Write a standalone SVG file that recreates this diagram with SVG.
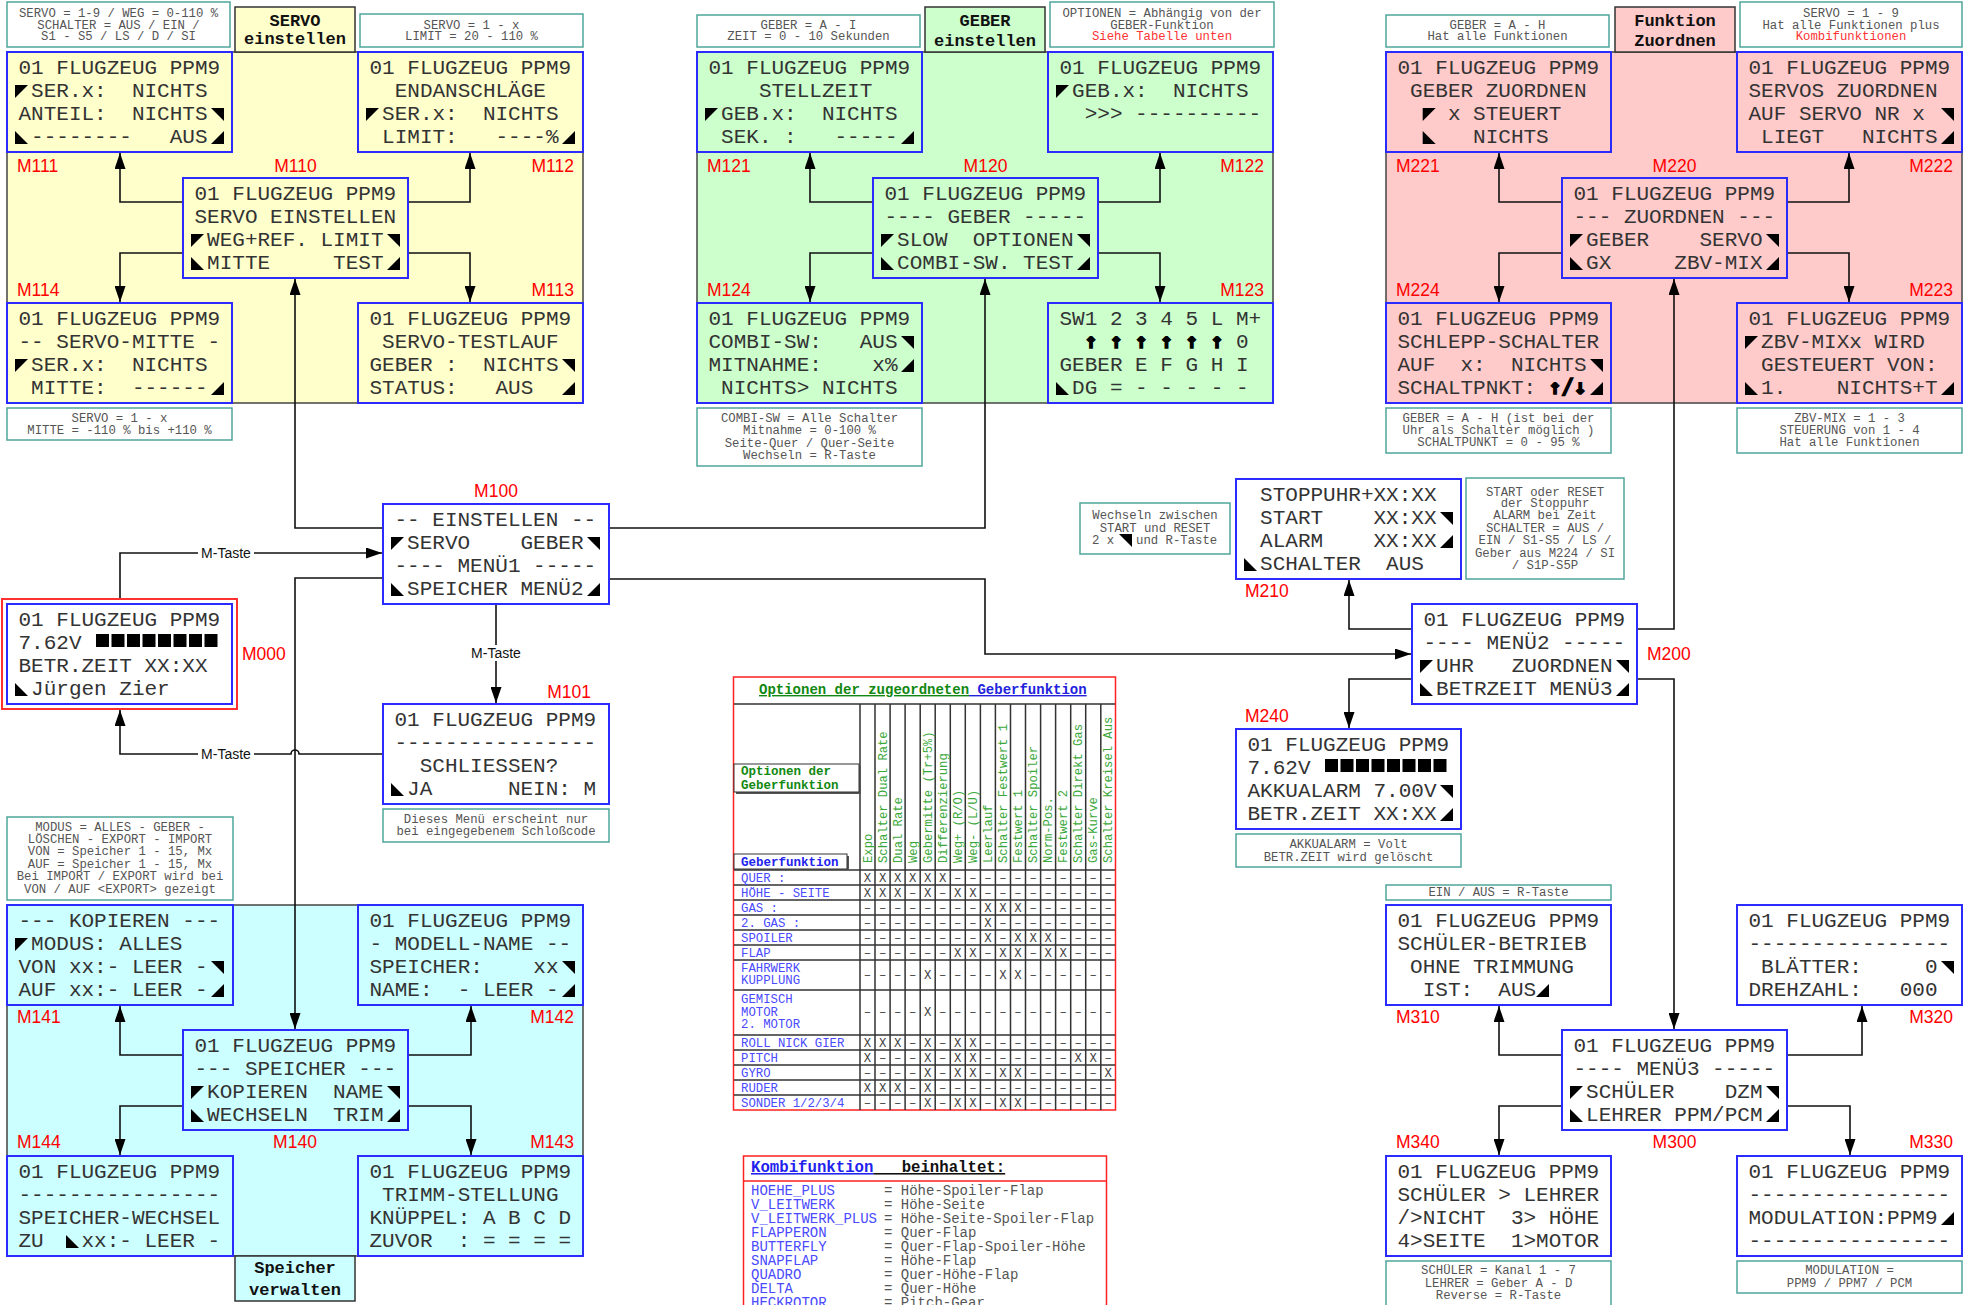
<svg xmlns="http://www.w3.org/2000/svg" width="1973" height="1305" viewBox="0 0 1973 1305" xml:space="preserve">
<style>
text{white-space:pre}
.bg{stroke:#444;stroke-width:1.5}
.yl{fill:#ffffcc}.gr{fill:#ccffcc}.rd{fill:#ffcaca}.cy{fill:#ccffff}.wh{fill:#ffffff}
.box{stroke:#2b2bff;stroke-width:2}
.lcd{font-family:"Liberation Mono",monospace;font-size:21px;fill:#333;white-space:pre}
.arw{font-family:"DejaVu Sans Mono",monospace;font-size:21px;font-weight:bold;fill:#000;stroke:#000;stroke-width:1.6;white-space:pre}
.ml{font-family:"Liberation Sans",Arial,sans-serif;font-size:17.5px;fill:#ff0000}
.note{fill:#ffffff;stroke:#4fa59c;stroke-width:1.5}
.nt{font-family:"Liberation Mono",monospace;font-size:12.3px;fill:#555;text-anchor:middle;white-space:pre}
.ntl{font-family:"Liberation Mono",monospace;font-size:12.3px;fill:#555;white-space:pre}
.red{fill:#ff3333}
.lab{stroke:#333;stroke-width:1.5}
.labt{font-family:"Liberation Mono",monospace;font-size:17px;font-weight:bold;fill:#111;text-anchor:middle}
.con{fill:none;stroke:#111;stroke-width:1.6}
.mt{font-family:"Liberation Sans",Arial,sans-serif;font-size:14px;fill:#111;text-anchor:middle}
.tri{fill:#000}
.tch{font-family:"Liberation Mono",monospace;font-size:12.2px;fill:#3aa83a;white-space:pre}
.trl{font-family:"Liberation Mono",monospace;font-size:12.3px;fill:#4a4aff;white-space:pre}
.tv{font-family:"Liberation Mono",monospace;font-size:12.3px;fill:#444;text-anchor:middle}
.grid{fill:none;stroke:#333;stroke-width:1.5}
.kl{font-family:"Liberation Mono",monospace;font-size:14px;fill:#4a4aff;white-space:pre}
.kr{font-family:"Liberation Mono",monospace;font-size:14px;fill:#555;white-space:pre}
</style>
<defs>
<polygon id="tA" class="tri" points="0,0 13,0 0,13"/>
<polygon id="tB" class="tri" points="0,0 13,0 13,13"/>
<polygon id="tC" class="tri" points="0,0 0,13 13,13"/>
<polygon id="tD" class="tri" points="13,0 13,13 0,13"/>
<marker id="ah" markerWidth="16" markerHeight="11" refX="16" refY="5.5" orient="auto" markerUnits="userSpaceOnUse"><path d="M0,0 L16,5.5 L0,11 z" fill="#000"/></marker>
</defs>
<rect width="1973" height="1305" fill="#ffffff"/>

<g id="sections">
<rect class="bg yl" x="7" y="52" width="576" height="351"/>
<rect class="bg gr" x="697" y="52" width="576" height="351"/>
<rect class="bg rd" x="1386" y="52" width="576" height="351"/>
<rect class="bg cy" x="7" y="905" width="576" height="351"/>
</g>

<g id="section-labels">
<g id="lab-servo"><rect class="lab yl" x="235" y="7" width="120" height="45"/><text class="labt" x="295" y="26">SERVO</text><text class="labt" x="295" y="44">einstellen</text></g>
<g id="lab-geber"><rect class="lab gr" x="925" y="7" width="120" height="45"/><text class="labt" x="985" y="26">GEBER</text><text class="labt" x="985" y="46">einstellen</text></g>
<g id="lab-funktion"><rect class="lab rd" x="1615" y="7" width="120" height="45"/><text class="labt" x="1675" y="26">Funktion</text><text class="labt" x="1675" y="46">Zuordnen</text></g>
<g id="lab-speicher"><rect class="lab cy" x="235" y="1256" width="120" height="45"/><text class="labt" x="295" y="1273">Speicher</text><text class="labt" x="295" y="1295">verwalten</text></g>
</g>

<g id="notes">
<g id="n1"><rect class="note" x="7" y="2" width="223" height="45"/><text class="nt" x="118.5" y="16.5">SERVO = 1-9 / WEG = 0-110 %</text><text class="nt" x="118.5" y="28.5">SCHALTER = AUS / EIN /</text><text class="nt" x="118.5" y="40">S1 - S5 / LS / D / SI</text></g>
<g id="n2"><rect class="note" x="360" y="14" width="223" height="33"/><text class="nt" x="471.5" y="28.5">SERVO = 1 - x</text><text class="nt" x="471.5" y="40">LIMIT = 20 - 110 %</text></g>
<g id="n3"><rect class="note" x="7" y="408" width="225" height="32"/><text class="nt" x="119.5" y="422">SERVO = 1 - x</text><text class="nt" x="119.5" y="434">MITTE = -110 % bis +110 %</text></g>
<g id="n4"><rect class="note" x="697" y="15" width="223" height="32"/><text class="nt" x="808.5" y="28.5">GEBER = A - I</text><text class="nt" x="808.5" y="40">ZEIT = 0 - 10 Sekunden</text></g>
<g id="n5"><rect class="note" x="1050" y="2" width="224" height="45"/><text class="nt" x="1162" y="16.5">OPTIONEN = Abhängig von der</text><text class="nt" x="1162" y="28.5">GEBER-Funktion</text><text class="nt red" x="1162" y="40">Siehe Tabelle unten</text></g>
<g id="n6"><rect class="note" x="697" y="408" width="225" height="58"/><text class="nt" x="809.5" y="422">COMBI-SW = Alle Schalter</text><text class="nt" x="809.5" y="434">Mitnahme = 0-100 %</text><text class="nt" x="809.5" y="447">Seite-Quer / Quer-Seite</text><text class="nt" x="809.5" y="459">Wechseln = R-Taste</text></g>
<g id="n7"><rect class="note" x="1386" y="15" width="223" height="32"/><text class="nt" x="1497.5" y="28.5">GEBER = A - H</text><text class="nt" x="1497.5" y="40">Hat alle Funktionen</text></g>
<g id="n8"><rect class="note" x="1740" y="2" width="222" height="45"/><text class="nt" x="1851" y="16.5">SERVO = 1 - 9</text><text class="nt" x="1851" y="28.5">Hat alle Funktionen plus</text><text class="nt red" x="1851" y="40">Kombifunktionen</text></g>
<g id="n9"><rect class="note" x="1386" y="408" width="225" height="45"/><text class="nt" x="1498.5" y="422">GEBER = A - H (ist bei der</text><text class="nt" x="1498.5" y="434">Uhr als Schalter möglich )</text><text class="nt" x="1498.5" y="446">SCHALTPUNKT = 0 - 95 %</text></g>
<g id="n10"><rect class="note" x="1737" y="408" width="225" height="45"/><text class="nt" x="1849.5" y="422">ZBV-MIX = 1 - 3</text><text class="nt" x="1849.5" y="434">STEUERUNG von 1 - 4</text><text class="nt" x="1849.5" y="446">Hat alle Funktionen</text></g>
<g id="n11"><rect class="note" x="1080" y="503" width="150" height="51"/><text class="nt" x="1155" y="519">Wechseln zwischen</text><text class="nt" x="1155" y="532">START und RESET</text><text class="ntl" x="1092" y="544">2 x</text><use href="#tB" x="1119" y="534"/><text class="ntl" x="1136" y="544">und R-Taste</text></g>
<g id="n12"><rect class="note" x="1466" y="478" width="158" height="101"/><text class="nt" x="1545" y="496">START oder RESET</text><text class="nt" x="1545" y="507">der Stoppuhr</text><text class="nt" x="1545" y="519">ALARM bei Zeit</text><text class="nt" x="1545" y="532">SCHALTER = AUS /</text><text class="nt" x="1545" y="544">EIN / S1-S5 / LS /</text><text class="nt" x="1545" y="557">Geber aus M224 / SI</text><text class="nt" x="1545" y="569">/ S1P-S5P</text></g>
<g id="n13"><rect class="note" x="383" y="809" width="226" height="33"/><text class="nt" x="496" y="823">Dieses Menü erscheint nur</text><text class="nt" x="496" y="835">bei eingegebenem Schloßcode</text></g>
<g id="n14"><rect class="note" x="7" y="817" width="226" height="83"/><text class="nt" x="120" y="831">MODUS = ALLES - GEBER -</text><text class="nt" x="120" y="843">LÖSCHEN - EXPORT - IMPORT</text><text class="nt" x="120" y="855">VON = Speicher 1 - 15, Mx</text><text class="nt" x="120" y="868">AUF = Speicher 1 - 15, Mx</text><text class="nt" x="120" y="880">Bei IMPORT / EXPORT wird bei</text><text class="nt" x="120" y="893">VON / AUF &lt;EXPORT&gt; gezeigt</text></g>
<g id="n15"><rect class="note" x="1236" y="834" width="225" height="33"/><text class="nt" x="1348.5" y="848">AKKUALARM = Volt</text><text class="nt" x="1348.5" y="861">BETR.ZEIT wird gelöscht</text></g>
<g id="n16"><rect class="note" x="1386" y="885" width="225" height="15"/><text class="nt" x="1498.5" y="896">EIN / AUS = R-Taste</text></g>
<g id="n17"><rect class="note" x="1386" y="1261" width="225" height="52"/><text class="nt" x="1498.5" y="1274">SCHÜLER = Kanal 1 - 7</text><text class="nt" x="1498.5" y="1287">LEHRER = Geber A - D</text><text class="nt" x="1498.5" y="1299">Reverse = R-Taste</text></g>
<g id="n18"><rect class="note" x="1737" y="1261" width="225" height="32"/><text class="nt" x="1849.5" y="1274">MODULATION =</text><text class="nt" x="1849.5" y="1287">PPM9 / PPM7 / PCM</text></g>
</g>

<g id="connectors">
<path class="con" marker-end="url(#ah)" d="M183,202 H120 V153"/>
<path class="con" marker-end="url(#ah)" d="M408,202 H470 V153"/>
<path class="con" marker-end="url(#ah)" d="M183,253 H120 V302"/>
<path class="con" marker-end="url(#ah)" d="M408,253 H470 V302"/>
<path class="con" marker-end="url(#ah)" d="M873,202 H810 V153"/>
<path class="con" marker-end="url(#ah)" d="M1098,202 H1160 V153"/>
<path class="con" marker-end="url(#ah)" d="M873,253 H810 V302"/>
<path class="con" marker-end="url(#ah)" d="M1098,253 H1160 V302"/>
<path class="con" marker-end="url(#ah)" d="M1562,202 H1499 V153"/>
<path class="con" marker-end="url(#ah)" d="M1787,202 H1849 V153"/>
<path class="con" marker-end="url(#ah)" d="M1562,253 H1499 V302"/>
<path class="con" marker-end="url(#ah)" d="M1787,253 H1849 V302"/>
<path class="con" marker-end="url(#ah)" d="M183,1055 H120 V1006"/>
<path class="con" marker-end="url(#ah)" d="M408,1055 H471 V1006"/>
<path class="con" marker-end="url(#ah)" d="M183,1106 H120 V1155"/>
<path class="con" marker-end="url(#ah)" d="M408,1106 H471 V1155"/>
<path class="con" marker-end="url(#ah)" d="M1562,1055 H1499 V1006"/>
<path class="con" marker-end="url(#ah)" d="M1787,1055 H1862 V1006"/>
<path class="con" marker-end="url(#ah)" d="M1562,1106 H1499 V1155"/>
<path class="con" marker-end="url(#ah)" d="M1787,1106 H1850 V1155"/>
<path class="con" marker-end="url(#ah)" d="M383,528 H295 V279"/>
<path class="con" marker-end="url(#ah)" d="M609,528 H985 V279"/>
<path class="con" marker-end="url(#ah)" d="M383,578 H295 V1029"/>
<path class="con" marker-end="url(#ah)" d="M609,579 H985 V654 H1411"/>
<path class="con" marker-end="url(#ah)" d="M120,599 V553 H382"/>
<path class="con" marker-end="url(#ah)" d="M496,605 V703"/>
<path class="con" marker-end="url(#ah)" d="M383,754 H299 A4,4 0 0 0 291,754 H120 V710"/>
<path class="con" marker-end="url(#ah)" d="M1412,629 H1349 V580"/>
<path class="con" marker-end="url(#ah)" d="M1412,679 H1349 V728"/>
<path class="con" marker-end="url(#ah)" d="M1637,629 H1674 V279"/>
<path class="con" marker-end="url(#ah)" d="M1637,679 H1674 V1029"/>
<rect x="198" y="545" width="56" height="16" fill="#fff"/><text class="mt" x="226" y="558">M-Taste</text>
<rect x="468" y="645" width="56" height="16" fill="#fff"/><text class="mt" x="496" y="658">M-Taste</text>
<rect x="198" y="746" width="56" height="16" fill="#fff"/><text class="mt" x="226" y="759">M-Taste</text>
</g>

<g id="M111"><rect class="box yl" x="7" y="52" width="225" height="100"/>
<text class="lcd" x="18.5" y="74">01 FLUGZEUG PPM9</text><text class="lcd" x="18.5" y="97"> SER.x:  NICHTS</text><text class="lcd" x="18.5" y="120">ANTEIL:  NICHTS</text><text class="lcd" x="18.5" y="143"> --------   AUS</text>
<use href="#tA" x="15" y="85"/><use href="#tB" x="211" y="108"/><use href="#tC" x="15" y="131"/><use href="#tD" x="211" y="131"/>
<text class="ml" x="17" y="172">M111</text></g>
<g id="M112"><rect class="box yl" x="358" y="52" width="225" height="100"/>
<text class="lcd" x="369.5" y="74">01 FLUGZEUG PPM9</text><text class="lcd" x="369.5" y="97">  ENDANSCHLÄGE</text><text class="lcd" x="369.5" y="120"> SER.x:  NICHTS</text><text class="lcd" x="369.5" y="143"> LIMIT:   ----%</text>
<use href="#tA" x="366" y="108"/><use href="#tD" x="562" y="131"/>
<text class="ml" x="574" y="172" text-anchor="end">M112</text></g>
<g id="M110"><rect class="box yl" x="183" y="178" width="225" height="100"/>
<text class="lcd" x="194.5" y="200">01 FLUGZEUG PPM9</text><text class="lcd" x="194.5" y="223">SERVO EINSTELLEN</text><text class="lcd" x="194.5" y="246"> WEG+REF. LIMIT</text><text class="lcd" x="194.5" y="269"> MITTE     TEST</text>
<use href="#tA" x="191" y="234"/><use href="#tB" x="387" y="234"/><use href="#tC" x="191" y="257"/><use href="#tD" x="387" y="257"/>
<text class="ml" x="295.5" y="172" text-anchor="middle">M110</text></g>
<g id="M114"><rect class="box yl" x="7" y="303" width="225" height="100"/>
<text class="lcd" x="18.5" y="325">01 FLUGZEUG PPM9</text><text class="lcd" x="18.5" y="348">-- SERVO-MITTE -</text><text class="lcd" x="18.5" y="371"> SER.x:  NICHTS</text><text class="lcd" x="18.5" y="394"> MITTE:  ------</text>
<use href="#tA" x="15" y="359"/><use href="#tD" x="211" y="382"/>
<text class="ml" x="17" y="296">M114</text></g>
<g id="M113"><rect class="box yl" x="358" y="303" width="225" height="100"/>
<text class="lcd" x="369.5" y="325">01 FLUGZEUG PPM9</text><text class="lcd" x="369.5" y="348"> SERVO-TESTLAUF</text><text class="lcd" x="369.5" y="371">GEBER :  NICHTS</text><text class="lcd" x="369.5" y="394">STATUS:   AUS</text>
<use href="#tB" x="562" y="359"/><use href="#tD" x="562" y="382"/>
<text class="ml" x="574" y="296" text-anchor="end">M113</text></g>

<g id="M121"><rect class="box gr" x="697" y="52" width="225" height="100"/>
<text class="lcd" x="708.5" y="74">01 FLUGZEUG PPM9</text><text class="lcd" x="708.5" y="97">    STELLZEIT</text><text class="lcd" x="708.5" y="120"> GEB.x:  NICHTS</text><text class="lcd" x="708.5" y="143"> SEK. :   -----</text>
<use href="#tA" x="705" y="108"/><use href="#tD" x="901" y="131"/>
<text class="ml" x="707" y="172">M121</text></g>
<g id="M122"><rect class="box gr" x="1048" y="52" width="225" height="100"/>
<text class="lcd" x="1059.5" y="74">01 FLUGZEUG PPM9</text><text class="lcd" x="1059.5" y="97"> GEB.x:  NICHTS</text><text class="lcd" x="1059.5" y="120">  &gt;&gt;&gt; ----------</text>
<use href="#tA" x="1056" y="85"/>
<text class="ml" x="1264" y="172" text-anchor="end">M122</text></g>
<g id="M120"><rect class="box gr" x="873" y="178" width="225" height="100"/>
<text class="lcd" x="884.5" y="200">01 FLUGZEUG PPM9</text><text class="lcd" x="884.5" y="223">---- GEBER -----</text><text class="lcd" x="884.5" y="246"> SLOW  OPTIONEN</text><text class="lcd" x="884.5" y="269"> COMBI-SW. TEST</text>
<use href="#tA" x="881" y="234"/><use href="#tB" x="1077" y="234"/><use href="#tC" x="881" y="257"/><use href="#tD" x="1077" y="257"/>
<text class="ml" x="985.5" y="172" text-anchor="middle">M120</text></g>
<g id="M124"><rect class="box gr" x="697" y="303" width="225" height="100"/>
<text class="lcd" x="708.5" y="325">01 FLUGZEUG PPM9</text><text class="lcd" x="708.5" y="348">COMBI-SW:   AUS</text><text class="lcd" x="708.5" y="371">MITNAHME:    x%</text><text class="lcd" x="708.5" y="394"> NICHTS&gt; NICHTS</text>
<use href="#tB" x="901" y="336"/><use href="#tD" x="901" y="359"/>
<text class="ml" x="707" y="296">M124</text></g>
<g id="M123"><rect class="box gr" x="1048" y="303" width="225" height="100"/>
<text class="lcd" x="1059.5" y="325">SW1 2 3 4 5 L M+</text><text class="lcd" x="1235.9" y="348">0</text><text class="arw" x="1084.7 1109.9 1135.1 1160.3 1185.5 1210.7" y="348">↑↑↑↑↑↑</text><text class="lcd" x="1059.5" y="371">GEBER E F G H I</text><text class="lcd" x="1059.5" y="394"> DG = - - - - -</text>
<use href="#tC" x="1056" y="382"/>
<text class="ml" x="1264" y="296" text-anchor="end">M123</text></g>

<g id="M221"><rect class="box rd" x="1386" y="52" width="225" height="100"/>
<text class="lcd" x="1397.5" y="74">01 FLUGZEUG PPM9</text><text class="lcd" x="1397.5" y="97"> GEBER ZUORDNEN</text><text class="lcd" x="1397.5" y="120">    x STEUERT</text><text class="lcd" x="1397.5" y="143">      NICHTS</text>
<use href="#tA" x="1422.7" y="108"/><use href="#tC" x="1422.7" y="131"/>
<text class="ml" x="1396" y="172">M221</text></g>
<g id="M222"><rect class="box rd" x="1737" y="52" width="225" height="100"/>
<text class="lcd" x="1748.5" y="74">01 FLUGZEUG PPM9</text><text class="lcd" x="1748.5" y="97">SERVOS ZUORDNEN</text><text class="lcd" x="1748.5" y="120">AUF SERVO NR x</text><text class="lcd" x="1748.5" y="143"> LIEGT   NICHTS</text>
<use href="#tB" x="1941" y="108"/><use href="#tD" x="1941" y="131"/>
<text class="ml" x="1953" y="172" text-anchor="end">M222</text></g>
<g id="M220"><rect class="box rd" x="1562" y="178" width="225" height="100"/>
<text class="lcd" x="1573.5" y="200">01 FLUGZEUG PPM9</text><text class="lcd" x="1573.5" y="223">--- ZUORDNEN ---</text><text class="lcd" x="1573.5" y="246"> GEBER    SERVO</text><text class="lcd" x="1573.5" y="269"> GX     ZBV-MIX</text>
<use href="#tA" x="1570" y="234"/><use href="#tB" x="1766" y="234"/><use href="#tC" x="1570" y="257"/><use href="#tD" x="1766" y="257"/>
<text class="ml" x="1674.5" y="172" text-anchor="middle">M220</text></g>
<g id="M224"><rect class="box rd" x="1386" y="303" width="225" height="100"/>
<text class="lcd" x="1397.5" y="325">01 FLUGZEUG PPM9</text><text class="lcd" x="1397.5" y="348">SCHLEPP-SCHALTER</text><text class="lcd" x="1397.5" y="371">AUF  x:  NICHTS</text><text class="lcd" x="1397.5" y="394">SCHALTPNKT:</text><text class="arw" x="1548.7" y="394">↑/↓</text>
<use href="#tB" x="1590" y="359"/><use href="#tD" x="1590" y="382"/>
<text class="ml" x="1396" y="296">M224</text></g>
<g id="M223"><rect class="box rd" x="1737" y="303" width="225" height="100"/>
<text class="lcd" x="1748.5" y="325">01 FLUGZEUG PPM9</text><text class="lcd" x="1748.5" y="348"> ZBV-MIXx WIRD</text><text class="lcd" x="1748.5" y="371"> GESTEUERT VON:</text><text class="lcd" x="1748.5" y="394"> 1.    NICHTS+T</text>
<use href="#tA" x="1745" y="336"/><use href="#tC" x="1745" y="382"/><use href="#tD" x="1941" y="382"/>
<text class="ml" x="1953" y="296" text-anchor="end">M223</text></g>

<g id="M100"><rect class="box wh" x="383" y="504" width="226" height="100"/>
<text class="lcd" x="394.5" y="526">-- EINSTELLEN --</text><text class="lcd" x="394.5" y="549"> SERVO    GEBER</text><text class="lcd" x="394.5" y="572">---- MENÜ1 -----</text><text class="lcd" x="394.5" y="595"> SPEICHER MENÜ2</text>
<use href="#tA" x="391" y="537"/><use href="#tB" x="587" y="537"/><use href="#tC" x="391" y="583"/><use href="#tD" x="587" y="583"/>
<text class="ml" x="496" y="497" text-anchor="middle">M100</text></g>
<g id="M101"><rect class="box wh" x="383" y="704" width="226" height="100"/>
<text class="lcd" x="394.5" y="726">01 FLUGZEUG PPM9</text><text class="lcd" x="394.5" y="749">----------------</text><text class="lcd" x="394.5" y="772">  SCHLIESSEN?</text><text class="lcd" x="394.5" y="795"> JA      NEIN: M</text>
<use href="#tC" x="391" y="783"/>
<text class="ml" x="591" y="698" text-anchor="end">M101</text></g>
<g id="M000"><rect x="2" y="599" width="235" height="110" fill="none" stroke="#ff3030" stroke-width="2"/><rect class="box wh" x="7" y="604" width="225" height="100"/>
<text class="lcd" x="18.5" y="626">01 FLUGZEUG PPM9</text><text class="lcd" x="18.5" y="649">7.62V</text><text class="lcd" x="18.5" y="672">BETR.ZEIT XX:XX</text><text class="lcd" x="18.5" y="695"> Jürgen Zier</text>
<g fill="#000"><rect x="96" y="634" width="13" height="13"/><rect x="111.5" y="634" width="13" height="13"/><rect x="127" y="634" width="13" height="13"/><rect x="142.5" y="634" width="13" height="13"/><rect x="158" y="634" width="13" height="13"/><rect x="173.5" y="634" width="13" height="13"/><rect x="189" y="634" width="13" height="13"/><rect x="204.5" y="634" width="13" height="13"/></g>
<use href="#tC" x="15" y="683"/>
<text class="ml" x="242" y="660">M000</text></g>
<g id="M210"><rect class="box wh" x="1236" y="479" width="225" height="100"/>
<text class="lcd" x="1247.5" y="501"> STOPPUHR+XX:XX</text><text class="lcd" x="1247.5" y="524"> START    XX:XX</text><text class="lcd" x="1247.5" y="547"> ALARM    XX:XX</text><text class="lcd" x="1247.5" y="570"> SCHALTER  AUS</text>
<use href="#tB" x="1440" y="512"/><use href="#tD" x="1440" y="535"/><use href="#tC" x="1244" y="558"/>
<text class="ml" x="1245" y="597">M210</text></g>
<g id="M200"><rect class="box wh" x="1412" y="604" width="225" height="100"/>
<text class="lcd" x="1423.5" y="626">01 FLUGZEUG PPM9</text><text class="lcd" x="1423.5" y="649">---- MENÜ2 -----</text><text class="lcd" x="1423.5" y="672"> UHR   ZUORDNEN</text><text class="lcd" x="1423.5" y="695"> BETRZEIT MENÜ3</text>
<use href="#tA" x="1420" y="660"/><use href="#tB" x="1616" y="660"/><use href="#tC" x="1420" y="683"/><use href="#tD" x="1616" y="683"/>
<text class="ml" x="1647" y="660">M200</text></g>
<g id="M240"><rect class="box wh" x="1236" y="729" width="225" height="100"/>
<text class="lcd" x="1247.5" y="751">01 FLUGZEUG PPM9</text><text class="lcd" x="1247.5" y="774">7.62V</text><text class="lcd" x="1247.5" y="797">AKKUALARM 7.00V</text><text class="lcd" x="1247.5" y="820">BETR.ZEIT XX:XX</text>
<g fill="#000"><rect x="1325" y="759" width="13" height="13"/><rect x="1340.5" y="759" width="13" height="13"/><rect x="1356" y="759" width="13" height="13"/><rect x="1371.5" y="759" width="13" height="13"/><rect x="1387" y="759" width="13" height="13"/><rect x="1402.5" y="759" width="13" height="13"/><rect x="1418" y="759" width="13" height="13"/><rect x="1433.5" y="759" width="13" height="13"/></g>
<use href="#tB" x="1440" y="785"/><use href="#tD" x="1440" y="808"/>
<text class="ml" x="1245" y="722">M240</text></g>

<g id="M141"><rect class="box cy" x="7" y="905" width="226" height="100"/>
<text class="lcd" x="18.5" y="927">--- KOPIEREN ---</text><text class="lcd" x="18.5" y="950"> MODUS: ALLES</text><text class="lcd" x="18.5" y="973">VON xx:- LEER -</text><text class="lcd" x="18.5" y="996">AUF xx:- LEER -</text>
<use href="#tA" x="15" y="938"/><use href="#tB" x="211" y="961"/><use href="#tD" x="211" y="984"/>
<text class="ml" x="17" y="1023">M141</text></g>
<g id="M142"><rect class="box cy" x="358" y="905" width="225" height="100"/>
<text class="lcd" x="369.5" y="927">01 FLUGZEUG PPM9</text><text class="lcd" x="369.5" y="950">- MODELL-NAME --</text><text class="lcd" x="369.5" y="973">SPEICHER:    xx</text><text class="lcd" x="369.5" y="996">NAME:  - LEER -</text>
<use href="#tB" x="562" y="961"/><use href="#tD" x="562" y="984"/>
<text class="ml" x="574" y="1023" text-anchor="end">M142</text></g>
<g id="M140"><rect class="box cy" x="183" y="1030" width="225" height="100"/>
<text class="lcd" x="194.5" y="1052">01 FLUGZEUG PPM9</text><text class="lcd" x="194.5" y="1075">--- SPEICHER ---</text><text class="lcd" x="194.5" y="1098"> KOPIEREN  NAME</text><text class="lcd" x="194.5" y="1121"> WECHSELN  TRIM</text>
<use href="#tA" x="191" y="1086"/><use href="#tB" x="387" y="1086"/><use href="#tC" x="191" y="1109"/><use href="#tD" x="387" y="1109"/>
<text class="ml" x="295" y="1148" text-anchor="middle">M140</text></g>
<g id="M144"><rect class="box cy" x="7" y="1156" width="226" height="100"/>
<text class="lcd" x="18.5" y="1178">01 FLUGZEUG PPM9</text><text class="lcd" x="18.5" y="1201">----------------</text><text class="lcd" x="18.5" y="1224">SPEICHER-WECHSEL</text><text class="lcd" x="18.5" y="1247">ZU   xx:- LEER -</text>
<use href="#tC" x="66" y="1235"/>
<text class="ml" x="17" y="1148">M144</text></g>
<g id="M143"><rect class="box cy" x="358" y="1156" width="225" height="100"/>
<text class="lcd" x="369.5" y="1178">01 FLUGZEUG PPM9</text><text class="lcd" x="369.5" y="1201"> TRIMM-STELLUNG</text><text class="lcd" x="369.5" y="1224">KNÜPPEL: A B C D</text><text class="lcd" x="369.5" y="1247">ZUVOR  : = = = =</text>
<text class="ml" x="574" y="1148" text-anchor="end">M143</text></g>

<g id="M310"><rect class="box wh" x="1386" y="905" width="225" height="100"/>
<text class="lcd" x="1397.5" y="927">01 FLUGZEUG PPM9</text><text class="lcd" x="1397.5" y="950">SCHÜLER-BETRIEB</text><text class="lcd" x="1397.5" y="973"> OHNE TRIMMUNG</text><text class="lcd" x="1397.5" y="996">  IST:  AUS</text>
<use href="#tD" x="1536" y="984"/>
<text class="ml" x="1396" y="1023">M310</text></g>
<g id="M320"><rect class="box wh" x="1737" y="905" width="225" height="100"/>
<text class="lcd" x="1748.5" y="927">01 FLUGZEUG PPM9</text><text class="lcd" x="1748.5" y="950">----------------</text><text class="lcd" x="1748.5" y="973"> BLÄTTER:     0</text><text class="lcd" x="1748.5" y="996">DREHZAHL:   000</text>
<use href="#tB" x="1941" y="961"/>
<text class="ml" x="1953" y="1023" text-anchor="end">M320</text></g>
<g id="M300"><rect class="box wh" x="1562" y="1030" width="225" height="100"/>
<text class="lcd" x="1573.5" y="1052">01 FLUGZEUG PPM9</text><text class="lcd" x="1573.5" y="1075">---- MENÜ3 -----</text><text class="lcd" x="1573.5" y="1098"> SCHÜLER    DZM</text><text class="lcd" x="1573.5" y="1121"> LEHRER PPM/PCM</text>
<use href="#tA" x="1570" y="1086"/><use href="#tB" x="1766" y="1086"/><use href="#tC" x="1570" y="1109"/><use href="#tD" x="1766" y="1109"/>
<text class="ml" x="1674.5" y="1148" text-anchor="middle">M300</text></g>
<g id="M340"><rect class="box wh" x="1386" y="1156" width="225" height="100"/>
<text class="lcd" x="1397.5" y="1178">01 FLUGZEUG PPM9</text><text class="lcd" x="1397.5" y="1201">SCHÜLER &gt; LEHRER</text><text class="lcd" x="1397.5" y="1224">/&gt;NICHT  3&gt; HÖHE</text><text class="lcd" x="1397.5" y="1247">4&gt;SEITE  1&gt;MOTOR</text>
<text class="ml" x="1396" y="1148">M340</text></g>
<g id="M330"><rect class="box wh" x="1737" y="1156" width="225" height="100"/>
<text class="lcd" x="1748.5" y="1178">01 FLUGZEUG PPM9</text><text class="lcd" x="1748.5" y="1201">----------------</text><text class="lcd" x="1748.5" y="1224">MODULATION:PPM9</text><text class="lcd" x="1748.5" y="1247">----------------</text>
<use href="#tD" x="1941" y="1212"/>
<text class="ml" x="1953" y="1148" text-anchor="end">M330</text></g>

<g id="options-table">
<rect x="733.5" y="677" width="382" height="433" fill="#fff" stroke="#ff2020" stroke-width="1.5"/>
<text x="759" y="694" font-family="Liberation Mono, monospace" font-size="14" font-weight="bold"><tspan fill="#118811" text-decoration="underline">Optionen der zugeordneten</tspan><tspan fill="#2222dd" text-decoration="underline"> Geberfunktion</tspan></text>
<path class="grid" d="M734,704H1115M734,870H1115M734,885H1115M734,900H1115M734,915H1115M734,930H1115M734,945H1115M734,960H1115M734,990H1115M734,1035H1115M734,1050H1115M734,1065H1115M734,1080H1115M734,1095H1115M860,704V1110M875,704V1110M890.1,704V1110M905.1,704V1110M920.2,704V1110M935.2,704V1110M950.3,704V1110M965.3,704V1110M980.4,704V1110M995.4,704V1110M1010.5,704V1110M1025.5,704V1110M1040.6,704V1110M1055.6,704V1110M1070.7,704V1110M1085.7,704V1110M1100.8,704V1110"/>
<rect x="736" y="766" width="125" height="28" fill="#555"/><rect x="734" y="764" width="125" height="28" fill="#fff" stroke="#333" stroke-width="1"/>
<text x="741" y="775" font-family="Liberation Mono, monospace" font-size="12.5" font-weight="bold" fill="#118811">Optionen der</text>
<text x="741" y="789" font-family="Liberation Mono, monospace" font-size="12.5" font-weight="bold" fill="#118811">Geberfunktion</text>
<rect x="736" y="856" width="113" height="14" fill="#555"/><rect x="734" y="854" width="113" height="15" fill="#fff" stroke="#333" stroke-width="1"/>
<text x="741" y="866" font-family="Liberation Mono, monospace" font-size="12.5" font-weight="bold" fill="#2222ee">Geberfunktion</text>
<g id="col-heads">
<text class="tch" transform="translate(871.5,863) rotate(-90)">Expo</text>
<text class="tch" transform="translate(886.6,863) rotate(-90)">Schalter Dual Rate</text>
<text class="tch" transform="translate(901.6,863) rotate(-90)">Dual Rate</text>
<text class="tch" transform="translate(916.7,863) rotate(-90)">Weg</text>
<text class="tch" transform="translate(931.7,863) rotate(-90)">Gebermitte (Tr+5%)</text>
<text class="tch" transform="translate(946.8,863) rotate(-90)">Differenzierung</text>
<text class="tch" transform="translate(961.8,863) rotate(-90)">Weg+ (R/O)</text>
<text class="tch" transform="translate(976.9,863) rotate(-90)">Weg- (L/U)</text>
<text class="tch" transform="translate(991.9,863) rotate(-90)">Leerlauf</text>
<text class="tch" transform="translate(1007,863) rotate(-90)">Schalter Festwert 1</text>
<text class="tch" transform="translate(1022,863) rotate(-90)">Festwert 1</text>
<text class="tch" transform="translate(1037.1,863) rotate(-90)">Schalter Spoiler</text>
<text class="tch" transform="translate(1052.1,863) rotate(-90)">Norm-Pos.</text>
<text class="tch" transform="translate(1067.2,863) rotate(-90)">Festwert 2</text>
<text class="tch" transform="translate(1082.2,863) rotate(-90)">Schalter Direkt Gas</text>
<text class="tch" transform="translate(1097.3,863) rotate(-90)">Gas-Kurve</text>
<text class="tch" transform="translate(1112.3,863) rotate(-90)">Schalter Kreisel Aus</text>
</g>
<g id="row-labels">
<text class="trl" x="741" y="881.5">QUER :</text>
<text class="trl" x="741" y="896.5">HÖHE - SEITE</text>
<text class="trl" x="741" y="911.5">GAS :</text>
<text class="trl" x="741" y="926.5">2. GAS :</text>
<text class="trl" x="741" y="941.5">SPOILER</text>
<text class="trl" x="741" y="956.5">FLAP</text>
<text class="trl" x="741" y="972">FAHRWERK</text>
<text class="trl" x="741" y="984">KUPPLUNG</text>
<text class="trl" x="741" y="1003">GEMISCH</text>
<text class="trl" x="741" y="1016">MOTOR</text>
<text class="trl" x="741" y="1028">2. MOTOR</text>
<text class="trl" x="741" y="1046.5">ROLL NICK GIER</text>
<text class="trl" x="741" y="1061.5">PITCH</text>
<text class="trl" x="741" y="1076.5">GYRO</text>
<text class="trl" x="741" y="1091.5">RUDER</text>
<text class="trl" x="741" y="1106.5">SONDER 1/2/3/4</text>
</g>
<g id="cells">
<text class="tv" x="867.5 882.6 897.6 912.7 927.7 942.8 957.8 972.9 987.9 1003 1018 1033.1 1048.1 1063.2 1078.2 1093.3 1108.3" y="881.5">XXXXXX–––––––––––</text>
<text class="tv" x="867.5 882.6 897.6 912.7 927.7 942.8 957.8 972.9 987.9 1003 1018 1033.1 1048.1 1063.2 1078.2 1093.3 1108.3" y="896.5">XXX–X–XX–––––––––</text>
<text class="tv" x="867.5 882.6 897.6 912.7 927.7 942.8 957.8 972.9 987.9 1003 1018 1033.1 1048.1 1063.2 1078.2 1093.3 1108.3" y="911.5">––––––––XXX––––––</text>
<text class="tv" x="867.5 882.6 897.6 912.7 927.7 942.8 957.8 972.9 987.9 1003 1018 1033.1 1048.1 1063.2 1078.2 1093.3 1108.3" y="926.5">––––––––X––––––––</text>
<text class="tv" x="867.5 882.6 897.6 912.7 927.7 942.8 957.8 972.9 987.9 1003 1018 1033.1 1048.1 1063.2 1078.2 1093.3 1108.3" y="941.5">––––––––X–XXX––––</text>
<text class="tv" x="867.5 882.6 897.6 912.7 927.7 942.8 957.8 972.9 987.9 1003 1018 1033.1 1048.1 1063.2 1078.2 1093.3 1108.3" y="956.5">––––––XX–XX–XX–––</text>
<text class="tv" x="867.5 882.6 897.6 912.7 927.7 942.8 957.8 972.9 987.9 1003 1018 1033.1 1048.1 1063.2 1078.2 1093.3 1108.3" y="979">––––X––––XX––––––</text>
<text class="tv" x="867.5 882.6 897.6 912.7 927.7 942.8 957.8 972.9 987.9 1003 1018 1033.1 1048.1 1063.2 1078.2 1093.3 1108.3" y="1016">––––X––––––––––––</text>
<text class="tv" x="867.5 882.6 897.6 912.7 927.7 942.8 957.8 972.9 987.9 1003 1018 1033.1 1048.1 1063.2 1078.2 1093.3 1108.3" y="1046.5">XXX–X–XX–––––––––</text>
<text class="tv" x="867.5 882.6 897.6 912.7 927.7 942.8 957.8 972.9 987.9 1003 1018 1033.1 1048.1 1063.2 1078.2 1093.3 1108.3" y="1061.5">X–––X–XX––––––XX–</text>
<text class="tv" x="867.5 882.6 897.6 912.7 927.7 942.8 957.8 972.9 987.9 1003 1018 1033.1 1048.1 1063.2 1078.2 1093.3 1108.3" y="1076.5">––––X–XX–XX–––––X</text>
<text class="tv" x="867.5 882.6 897.6 912.7 927.7 942.8 957.8 972.9 987.9 1003 1018 1033.1 1048.1 1063.2 1078.2 1093.3 1108.3" y="1091.5">XXX–X––––––––––––</text>
<text class="tv" x="867.5 882.6 897.6 912.7 927.7 942.8 957.8 972.9 987.9 1003 1018 1033.1 1048.1 1063.2 1078.2 1093.3 1108.3" y="1106.5">––––X–XX–XX––––––</text>
</g>
</g>

<g id="kombi-table">
<rect x="743.5" y="1156" width="363" height="160" fill="#fff" stroke="#ff2020" stroke-width="1.5"/>
<line x1="743.5" y1="1181" x2="1106.5" y2="1181" stroke="#ff2020" stroke-width="1.5"/>
<text x="751" y="1172" font-family="Liberation Mono, monospace" font-size="15.7" font-weight="bold"><tspan fill="#2222ee" text-decoration="underline">Kombifunktion</tspan><tspan fill="#111" text-decoration="underline">   beinhaltet:</tspan></text>
<text class="kl" x="751" y="1195">HOEHE_PLUS</text><text class="kr" x="884" y="1195">= Höhe-Spoiler-Flap</text>
<text class="kl" x="751" y="1209">V_LEITWERK</text><text class="kr" x="884" y="1209">= Höhe-Seite</text>
<text class="kl" x="751" y="1223">V_LEITWERK_PLUS</text><text class="kr" x="884" y="1223">= Höhe-Seite-Spoiler-Flap</text>
<text class="kl" x="751" y="1237">FLAPPERON</text><text class="kr" x="884" y="1237">= Quer-Flap</text>
<text class="kl" x="751" y="1251">BUTTERFLY</text><text class="kr" x="884" y="1251">= Quer-Flap-Spoiler-Höhe</text>
<text class="kl" x="751" y="1265">SNAPFLAP</text><text class="kr" x="884" y="1265">= Höhe-Flap</text>
<text class="kl" x="751" y="1279">QUADRO</text><text class="kr" x="884" y="1279">= Quer-Höhe-Flap</text>
<text class="kl" x="751" y="1293">DELTA</text><text class="kr" x="884" y="1293">= Quer-Höhe</text>
<text class="kl" x="751" y="1307">HECKROTOR</text><text class="kr" x="884" y="1307">= Pitch-Gear</text>
</g>
</svg>
